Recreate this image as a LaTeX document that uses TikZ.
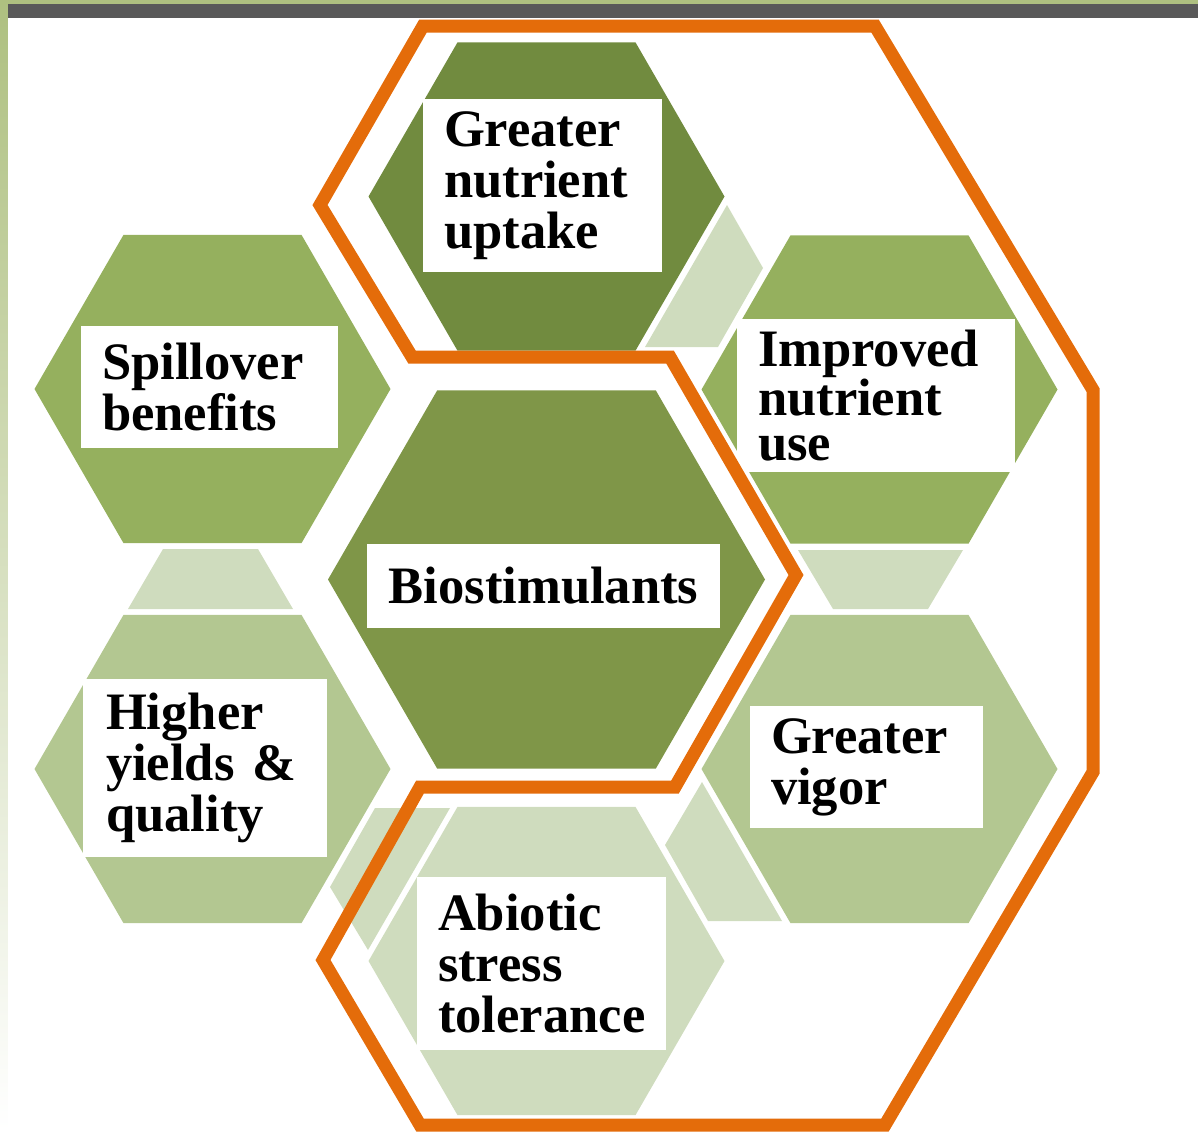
\documentclass[tikz,border=0pt]{standalone}
\usepackage{fontspec}
\setmainfont{Liberation Serif}
\usepackage{xcolor}
\usepackage{tikz}
\usetikzlibrary{shapes.geometric, positioning}

\definecolor{hexdark}{HTML}{718B3F}
\definecolor{hexmid}{HTML}{7F9648}
\definecolor{hexgreen}{HTML}{95B05E}
\definecolor{hexpale}{HTML}{B3C791}
\definecolor{hexlight}{HTML}{CFDCBE}
\definecolor{ringorange}{HTML}{E46C0A}
\definecolor{bargray}{HTML}{595959}
\definecolor{edgegreen}{HTML}{AEC080}

\begin{document}
\begin{tikzpicture}[x=0.5pt, y=-0.5pt, on grid,
        hexa/.style={regular polygon, regular polygon sides=6, minimum size=178pt, inner sep=0pt, outer sep=0pt},
        lbl/.style={fill=white, inner ysep=0pt, inner xsep=10.5pt, align=left, font=\fontsize{26.3pt}{25.5pt}\selectfont\bfseries},
        link/.style={fill=hexlight},
        ring/.style={draw=ringorange, line width=6.5pt, line join=miter}]
        \useasboundingbox (0,0) rectangle (1198,1131);

        \fill[edgegreen] (0,0) rectangle (1198,4);
        \shade[top color=edgegreen, bottom color=white] (0,0) rectangle (7.5,1131);
        \fill[bargray] (7.5,4) rectangle (1198,18);

        \node[hexa, fill=hexmid, minimum size=218.5pt] (bio) at (546.5,579.5) {};
        \node[hexa, fill=hexdark] (upt) [above=191.5pt of bio] {};
        \node[hexa, fill=hexgreen] (impr) [above right=95pt and 166.5pt of bio] {};
        \node[hexa, fill=hexpale] (vig) [below right=94.75pt and 166.5pt of bio] {};
        \node[hexa, fill=hexlight] (abio) [below=190.75pt of bio] {};
        \node[hexa, fill=hexpale] (yld) [below left=94.75pt and 167pt of bio] {};
        \node[hexa, fill=hexgreen] (spill) [above left=95.25pt and 167pt of bio] {};

        \fill[link] (727,205) -- (763,268) -- (718,347) -- (645,347) -- cycle;
        \fill[link] (798,550) -- (963,550) -- (928,609) -- (833,609) -- cycle;
        \fill[link] (702,782) -- (782,921) -- (708,921) -- (665,845) -- cycle;
        \fill[link] (368,950) -- (330,887) -- (375,808) -- (450,808) -- cycle;
        \fill[link] (128,609) -- (293,609) -- (258,549) -- (163,549) -- cycle;

        \node[lbl, text width=98.5pt, minimum height=86.5pt] (upt-t) at (542.5,185.5) {Greater\\nutrient\\uptake};
        \node[lbl, text width=107.5pt, minimum height=61pt] (spill-t) at (209.5,387) {Spillover\\benefits};
        \node[lbl, text width=118pt, minimum height=76.5pt, font=\fontsize{26.3pt}{22.5pt}\selectfont\bfseries] (impr-t) at (876,395.5) {Improved\\nutrient\\use};
        \node[lbl, text width=155.5pt, minimum height=42pt, align=center] (bio-t) at (543.5,586) {Biostimulants};
        \node[lbl, text width=99pt, inner xsep=11.5pt, minimum height=89pt] (yld-t) at (205,768) {Higher\\yields \&\\quality};
        \node[lbl, text width=95.5pt, minimum height=61pt] (vig-t) at (866.5,767) {Greater\\vigor};
        \node[lbl, text width=103.5pt, minimum height=86.5pt] (abio-t) at (541.5,963.5) {Abiotic\\stress\\tolerance};

        \draw[ring] (423,26) -- (875,26) -- (1093,390) -- (1093,772) -- (885,1125)
            -- (420,1125) -- (323,960) -- (420,787) -- (675,787) -- (796,575)
            -- (670,357) -- (412,357) -- (320,205) -- cycle;
    \end{tikzpicture}
\end{document}
